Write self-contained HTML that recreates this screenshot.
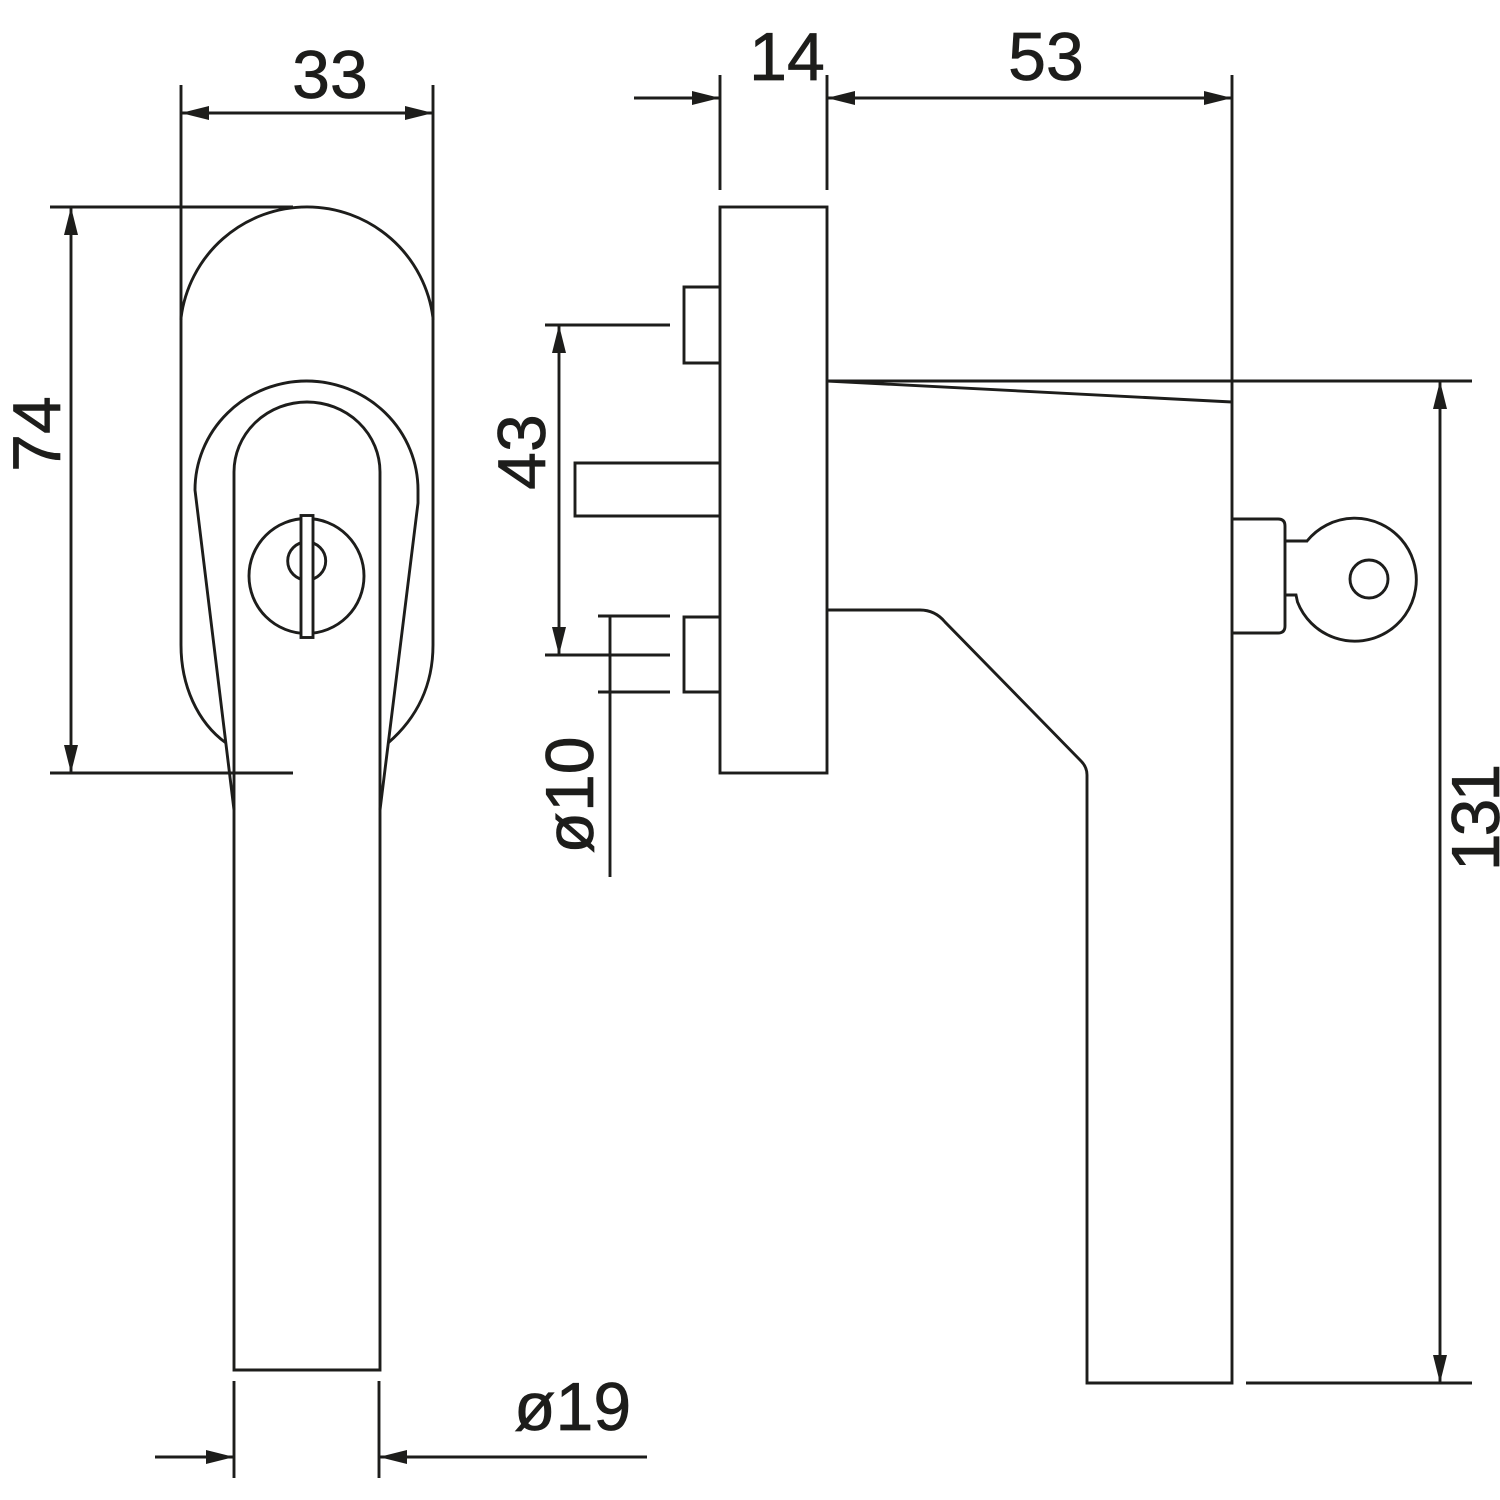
<!DOCTYPE html>
<html><head><meta charset="utf-8"><style>
html,body{margin:0;padding:0;background:#fff}
svg{display:block}
text{font-family:"Liberation Sans",sans-serif;font-size:68px;fill:#1d1d1b;stroke:#1d1d1b;stroke-width:.7}
.l{fill:none;stroke:#1d1d1b;stroke-width:2.9}
.a{fill:#1d1d1b;stroke:none}
</style></head><body>
<svg xmlns="http://www.w3.org/2000/svg" width="1500" height="1500" viewBox="0 0 1500 1500">
<rect width="1500" height="1500" fill="#fff"/>
<g class="l">
<!-- front view plate -->
<path d="M181 318V645C181 685 197 722 226 743M433 318V645C433 685 417 718 388 743"/>
<path d="M181 318A127 127 0 0 1 433 318"/>
<!-- front handle -->
<path d="M234 810V1370H380V810"/>
<path d="M234 810V472A73 70 0 0 1 380 472V810"/>
<path d="M234 810L195 490A111.500 109 0 0 1 418 490V503L380 810"/>
<!-- lock -->
<circle cx="306.500" cy="576" r="57.500"/>
<circle cx="306.700" cy="561" r="19"/>
<rect x="301" y="515.500" width="12" height="122" fill="#fff"/>
<!-- side view -->
<rect x="720" y="207" width="107" height="566"/>
<path d="M720 287H684V363H720M720 617H684V692H720M720 463H575V516H720"/>
<path d="M827 381L1232 402"/>
<path d="M1232 75V1383H1087V775Q1087 767 1081 761L945 622Q935 610 920 610H827"/>
<!-- key -->
<path d="M1232 519H1278Q1285 519 1285 526V626Q1285 633 1278 633H1232"/>
<path d="M1285 541H1307A61.500 61.500 0 1 1 1297.500 602L1296 595H1285"/>
<circle cx="1369" cy="579" r="19"/>
<!-- dimension lines -->
<path d="M181 85V320M433 85V320M181 113H433"/>
<path d="M50 207H293M50 773H293M71 207V773"/>
<path d="M634 98H720M720 75V190M827 75V190M827 98H1232"/>
<path d="M827 381H1472M1440 381V1383M1246 1383H1472"/>
<path d="M545 325H670M559 325V655M545 655H670"/>
<path d="M598 616H670M598 692H670M610 616V877"/>
<path d="M234 1381V1478M379 1381V1478M155 1457H234M379 1457H647"/>
</g>
<g class="a">
<path d="M181 113L209 106V120ZM433 113L405 106V120Z"/>
<path d="M71 207L64 235H78ZM71 773L64 745H78Z"/>
<path d="M720 98L692 91V105ZM827 98L855 91V105ZM1232 98L1204 91V105Z"/>
<path d="M559 325L552 353H566ZM559 655L552 627H566Z"/>
<path d="M1440 381L1433 409H1447ZM1440 1383L1433 1355H1447Z"/>
<path d="M234 1457L206 1450V1464ZM379 1457L407 1450V1464Z"/>
</g>
<text x="330" y="98" text-anchor="middle">33</text>
<text x="787" y="80" text-anchor="middle">14</text>
<text x="1046" y="80" text-anchor="middle">53</text>
<text x="514" y="1430">ø19</text>
<text transform="translate(60 434) rotate(-90)" text-anchor="middle">74</text>
<text transform="translate(545 452) rotate(-90)" text-anchor="middle">43</text>
<text transform="translate(593 795) rotate(-90)" text-anchor="middle">ø10</text>
<text transform="translate(1499 819) rotate(-90)" text-anchor="middle" letter-spacing="-3">131</text>
</svg>
</body></html>
